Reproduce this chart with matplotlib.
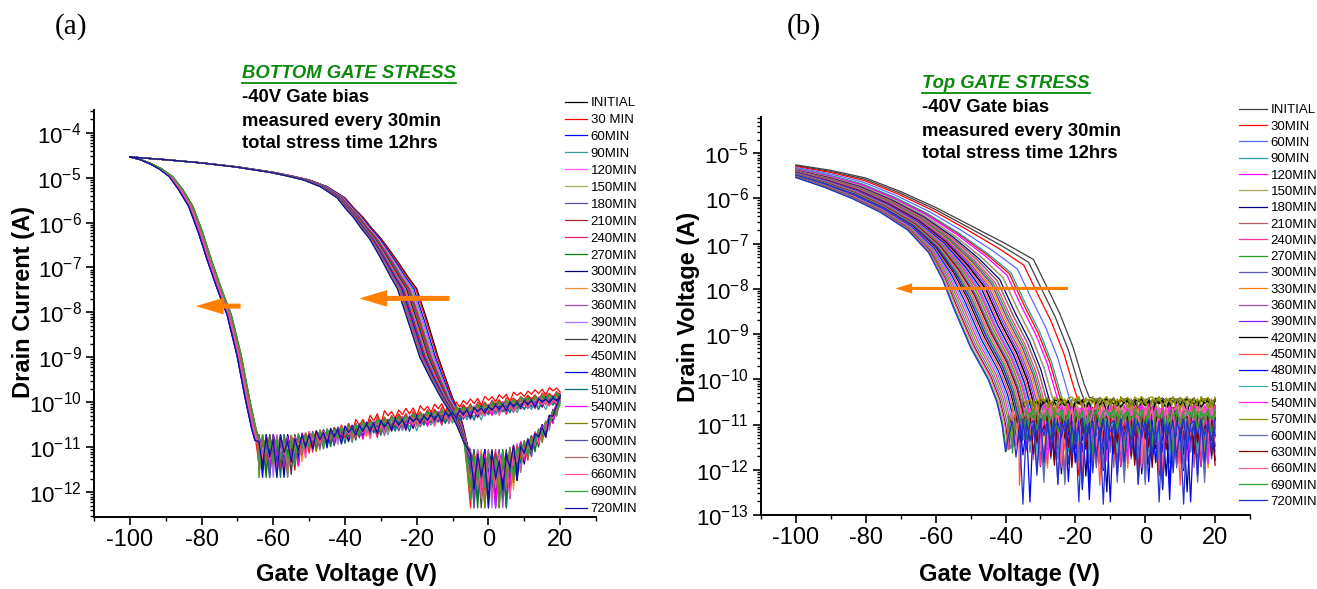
import numpy as np
import matplotlib
matplotlib.use("Agg")
from matplotlib import pyplot as plt
from matplotlib.lines import Line2D
from matplotlib.ticker import MultipleLocator, LogLocator, NullFormatter

plt.rcParams['font.family'] = ['Liberation Sans', 'DejaVu Sans']
plt.rcParams['axes.unicode_minus'] = False
plt.rcParams['mathtext.default'] = 'regular'

W, H = 1317, 589

STRESS_MIN = list(range(30, 721, 30))
LABELS_A = ['INITIAL', '30 MIN'] + ['%dMIN' % m for m in STRESS_MIN[1:]]
LABELS_B = ['INITIAL'] + ['%dMIN' % m for m in STRESS_MIN]

COLORS_A = ['#000000', '#ff0000', '#0000ff', '#339999', '#ff55ff', '#a8a858',
            '#5555aa', '#aa2222', '#e0206a', '#008000', '#000080', '#ff8c28',
            '#a050a8', '#b070ff', '#404040', '#ff2020', '#0000ff', '#007070',
            '#ff00ff', '#808000', '#5050a0', '#b06a6a', '#ff50a0', '#30a030',
            '#1010a0']
COLORS_B = ['#404040', '#ff0000', '#5a6aff', '#20a0a0', '#ff00ff', '#a8a858',
            '#000080', '#b06060', '#ff3399', '#20a020', '#5a5ab0', '#ff8000',
            '#a050a0', '#8020ff', '#000000', '#ff5050', '#0000ff', '#40b0b0',
            '#ff20ff', '#909000', '#6070b0', '#800000', '#ff60a0', '#30a030',
            '#2030d0']

# ---------------- (a) bottom gate stress, double sweep ----------------
# forward sweep, turn-off branch (log10 of current)
FWD_VG = [-100, -97, -94, -91.4, -88.5, -85.8, -83, -80.3, -77.9, -75.6, -74,
          -72.3, -69.5, -67.2, -65.4, -64.5]
FWD_LOG = [-4.54, -4.6, -4.7, -4.81, -4.98, -5.27, -5.64, -6.22, -6.82, -7.35,
           -7.7, -8.05, -8.97, -9.93, -10.6, -10.85]
FWD_W = [0, 0.2, 0.4, 0.6, 0.8, 1, 1, 1, 1, 1, 1, 1, 1, 1, 1, 1]
SHIFT_A_FWD = [0.3, 0.5, -0.2, 0.1, -0.4, 0.4, -0.1, 0.2, -0.3, 0.6, -0.5, 0.0,
               0.3, -0.2, 0.5, -0.4, -0.6, 0.1, -0.3, 0.4, -0.5, 0.2, -0.1,
               0.6, -0.6]

# off-state leakage floor of the forward sweep
FLOOR_A_VG = [-64, -55, -50, -40, -30, -20, -10, 0, 10, 20]
FLOOR_A_LOG = [-10.92, -10.92, -10.76, -10.61, -10.48, -10.36, -10.24, -10.12,
               -10.0, -9.9]
NAMP_A_VG = [-64, -56, -50, -40, -20, 20]
NAMP_A = [1.0, 1.0, 0.5, 0.38, 0.26, 0.18]
NOISE_A = [0.15, -0.35, 0.1, -0.6, 0.2, -0.25, 0.05, -0.5, 0.15, -0.3, 0.1,
           -0.75, 0.2, -0.2, 0.05, -0.45, 0.1, -0.3]
FLOOR_OFF_A = [0.0, 0.22, 0.03, -0.08, 0.05, 0.0, -0.03, 0.06, -0.05, 0.09,
               0.0, 0.04, -0.04, 0.02, 0.0, 0.12, 0.03, -0.06, -0.02, 0.05,
               0.0, 0.02, -0.05, 0.08, 0.0]

# reverse sweep, from +20 V back down into the noise near 0 V
REV_K_VG = [-5, 5, 8, 12, 16, 20]
REV_K_LOG = [-11.35, -11.35, -11.1, -10.85, -10.5, -9.95]
NOISE_A_REV = [0.2, -0.4, 0.1, -0.8, 0.3, -0.2, 0.15, -0.6, 0.05, -0.35, 0.25,
               -1.0, 0.1, -0.3, 0.2, -0.55]

# reverse sweep, turn-on branch back to -100 V
UP_VG = [-6, -7, -8, -10, -12, -14, -17, -20, -22.5, -25, -27.5, -30, -32.5,
         -35, -37.5, -40, -45, -50, -55, -60, -70, -80, -90, -100]
UP_LOG = [-10.9, -10.55, -10.25, -9.9, -9.45, -9.0, -8.2, -7.47, -7.2, -6.9,
          -6.62, -6.35, -6.13, -5.88, -5.68, -5.45, -5.2, -5.05, -4.96, -4.88,
          -4.76, -4.67, -4.6, -4.54]
UP_W = [0.15, 0.3, 0.45, 0.6, 0.8, 0.95, 1, 1, 0.9, 0.8, 0.7, 0.6, 0.55, 0.5,
        0.45, 0.4, 0.35, 0.3, 0.25, 0.2, 0.15, 0.1, 0.05, 0]
SHIFT_A = [0, -0.3, -0.8, -1.2, -1.5, -1.8, -2.0, -2.3, -2.5, -2.8, -3.0, -3.2,
           -3.4, -3.6, -3.8, -4.0, -4.2, -4.4, -4.6, -4.8, -5.0, -5.1, -5.2,
           -5.3, -5.4]

# ---------------- (b) top gate stress ----------------
KEY_R_VG = [-100, -90, -80, -70, -60, -50, -40, -32, -28, -24.5, -20.7, -17.5, -16]
KEY_R_LOG = [-5.26, -5.38, -5.55, -5.85, -6.2, -6.6, -7.0, -7.35, -7.98, -8.54,
             -9.28, -10.1, -10.4]
KEY_L_VG = [-100, -92, -84, -76, -68, -62, -58, -55, -50, -45, -42.5, -41, -40]
KEY_L_LOG = [-5.54, -5.75, -6.0, -6.3, -6.7, -7.2, -7.8, -8.4, -9.3, -10.0,
             -10.5, -11.0, -11.6]
W_B_FWD = [0.0, 0.12, 0.2, 0.28, 0.33, 0.38, 0.42, 0.45, 0.48, 0.5, 0.52, 0.54,
           0.56, 0.58, 0.6, 0.62, 0.64, 0.66, 0.68, 0.7, 0.72, 0.74, 0.76,
           0.78, 0.8]
W_B_REV = [0.06, 0.3, 0.38, 0.45, 0.52, 0.56, 0.6, 0.64, 0.67, 0.7, 0.73, 0.76,
           0.78, 0.8, 0.82, 0.84, 0.86, 0.88, 0.9, 0.92, 0.94, 0.96, 0.97,
           0.99, 1.0]
FLOOR_B = [-10.42, -10.65, -10.75, -10.7, -10.6, -10.45, -10.9, -10.8, -10.65,
           -10.7, -10.85, -10.75, -10.7, -10.8, -10.45, -10.75, -10.9, -10.7,
           -10.6, -10.4, -10.85, -10.8, -10.65, -10.7, -10.95]
NAMP_B = [0.1, 0.65, 0.55, 0.5, 0.5, 0.25, 0.7, 0.5, 0.55, 0.4, 0.65, 0.55, 0.5,
          0.65, 0.15, 0.7, 0.8, 0.4, 0.55, 0.2, 0.65, 0.5, 0.55, 0.4, 0.8]
NOISE_B = [0.05, -0.35, 0.1, -1.1, -0.05, -0.5, 0.1, -1.7, 0.0, -0.25, 0.08,
           -0.9, -0.1, -2.2, 0.1, -0.45, 0.0, -1.4, 0.05, -0.3, 0.1, -0.75, -0.05]


def fx(px):
    return px / W


def fy(py):
    return 1 - py / H


def curve_a(i):
    vg1 = np.array(FWD_VG) + SHIFT_A_FWD[i] * np.array(FWD_W)
    lg1 = np.array(FWD_LOG)

    vg2 = np.arange(-64, 21)
    amp = np.interp(vg2, NAMP_A_VG, NAMP_A)
    noise = np.resize(np.roll(NOISE_A, 5 * i), vg2.size)
    off = FLOOR_OFF_A[i] * np.interp(vg2, [-64, -45, -30, 20], [0, 0, 1, 1])
    lg2 = np.interp(vg2, FLOOR_A_VG, FLOOR_A_LOG) + amp * noise + off

    vg3 = np.arange(19, -6, -1)
    amp3 = np.interp(vg3, [-5, 5, 10, 20], [1.0, 1.0, 0.4, 0.2])
    noise3 = np.resize(np.roll(NOISE_A_REV, 3 * i), vg3.size)
    lg3 = np.interp(vg3, REV_K_VG, REV_K_LOG) + amp3 * noise3

    vg4 = np.array(UP_VG) + SHIFT_A[i] * np.array(UP_W)
    lg4 = np.array(UP_LOG)

    vg = np.concatenate([vg1, vg2, vg3, vg4])
    lg = np.concatenate([lg1, lg2, lg3, lg4])
    return vg, 10 ** lg


def sweep_b(w, level, amp, roll):
    kv = (1 - w) * np.array(KEY_R_VG) + w * np.array(KEY_L_VG)
    kl = (1 - w) * np.array(KEY_R_LOG) + w * np.array(KEY_L_LOG)
    fv = np.arange(np.floor(kv[-1]) + 1, 21)
    fl = level + amp * np.resize(np.roll(NOISE_B, roll), fv.size)
    return np.concatenate([kv, fv]), 10 ** np.concatenate([kl, fl])


def style_axes(ax, ylo, yhi):
    ax.set_yscale('log')
    ax.set_xlim(-110, 30)
    ax.set_ylim(ylo, yhi)
    for side in ('top', 'right'):
        ax.spines[side].set_visible(False)
    for side in ('left', 'bottom'):
        ax.spines[side].set_linewidth(1.4)
    ax.xaxis.set_major_locator(MultipleLocator(20))
    ax.xaxis.set_minor_locator(MultipleLocator(10))
    ax.yaxis.set_major_locator(LogLocator(base=10, numticks=30))
    ax.yaxis.set_minor_locator(LogLocator(base=10, subs=np.arange(2, 10), numticks=30))
    ax.yaxis.set_minor_formatter(NullFormatter())
    ax.tick_params(which='major', direction='out', length=6, width=1.2, pad=3)
    ax.tick_params(axis='x', which='major', labelsize=17)
    ax.tick_params(axis='y', which='major', labelsize=16)
    ax.tick_params(which='minor', direction='out', length=3, width=1.0)


fig = plt.figure(figsize=(W / 100, H / 100), dpi=100)

# panel (a)
ax_a = fig.add_axes([fx(94), fy(517), fx(596) - fx(94), fy(110) - fy(517)])
for i in range(len(LABELS_A)):
    vg, idr = curve_a(i)
    ax_a.plot(vg, idr, color=COLORS_A[i], lw=0.9, label=LABELS_A[i])
style_axes(ax_a, 2.8e-13, 3.2e-4)

ax_a.annotate('', xy=(-81.6, 1.38e-8), xytext=(-69.1, 1.38e-8),
              arrowprops=dict(arrowstyle='simple,head_length=20,head_width=12,tail_width=3.6',
                              mutation_scale=1, color='#ff8000', lw=0,
                              shrinkA=0, shrinkB=0))
ax_a.annotate('', xy=(-36.0, 2.05e-8), xytext=(-10.9, 2.05e-8),
              arrowprops=dict(arrowstyle='simple,head_length=20,head_width=12,tail_width=3.6',
                              mutation_scale=1, color='#ff8000', lw=0,
                              shrinkA=0, shrinkB=0))

ax_a.legend(loc='upper left', bbox_to_anchor=(fx(565), fy(97)),
            bbox_transform=fig.transFigure, frameon=False, fontsize=9.5,
            handlelength=1.7, handletextpad=0.25, labelspacing=0.355,
            borderpad=0, borderaxespad=0)

# panel (b)
ax_b = fig.add_axes([fx(761), fy(515), fx(1250) - fx(761), fy(117) - fy(515)])
for i in range(len(LABELS_B)):
    vg, idr = sweep_b(W_B_FWD[i], FLOOR_B[i], NAMP_B[i], 3 * i)
    ax_b.plot(vg, idr, color=COLORS_B[i], lw=0.9, label=LABELS_B[i])
    vg, idr = sweep_b(W_B_REV[i], FLOOR_B[i] - 0.05, NAMP_B[i], 3 * i + 11)
    ax_b.plot(vg[::-1], idr[::-1], color=COLORS_B[i], lw=0.9)
style_axes(ax_b, 1e-13, 6.3e-5)

ax_b.annotate('', xy=(-71.5, 1.02e-8), xytext=(-22.1, 1.02e-8),
              arrowprops=dict(arrowstyle='simple,head_length=12,head_width=7.5,tail_width=2.3',
                              mutation_scale=1, color='#ff8000', lw=0,
                              shrinkA=0, shrinkB=0))

ax_b.legend(loc='upper left', bbox_to_anchor=(fx(1239), fy(104)),
            bbox_transform=fig.transFigure, frameon=False, fontsize=9.5,
            handlelength=2.1, handletextpad=0.3, labelspacing=0.31,
            borderpad=0, borderaxespad=0)

# axis labels and panel letters
fig.text(fx(24), fy(302), 'Drain Current (A)', rotation=90, ha='center',
         va='center', fontsize=17, fontweight='bold')
fig.text(fx(346), fy(575), 'Gate Voltage (V)', ha='center', va='center',
         fontsize=17, fontweight='bold')
fig.text(fx(688), fy(307), 'Drain Voltage (A)', rotation=90, ha='center',
         va='center', fontsize=17, fontweight='bold')
fig.text(fx(1009), fy(574), 'Gate Voltage (V)', ha='center', va='center',
         fontsize=17, fontweight='bold')
fig.text(fx(71), fy(27), '(a)', ha='center', va='center', fontsize=21,
         family='Liberation Serif')
fig.text(fx(804), fy(27), '(b)', ha='center', va='center', fontsize=21,
         family='Liberation Serif')

# stress condition notes
titles = []
for x0, y0, title in [(242, 73, 'BOTTOM GATE STRESS'), (922, 83, 'Top GATE STRESS')]:
    t = fig.text(fx(x0), fy(y0), title, ha='left', va='center', fontsize=13.3,
                 fontweight='bold', style='italic', color='#0a8a0a')
    titles.append(t)
    for k, line in enumerate(['-40V Gate bias', 'measured every 30min',
                              'total stress time 12hrs']):
        fig.text(fx(x0), fy(y0 + 25 + 23 * k), line, ha='left', va='center',
                 fontsize=13.3, fontweight='bold')

# underline the green titles
renderer = fig.canvas.get_renderer()
for t in titles:
    bb = t.get_window_extent(renderer)
    yl = (bb.y0 - 1) / fig.bbox.height
    fig.add_artist(Line2D([bb.x0 / fig.bbox.width, bb.x1 / fig.bbox.width],
                          [yl, yl], color='#0a8a0a', lw=1.3))

fig.savefig('out.png', dpi=100)
